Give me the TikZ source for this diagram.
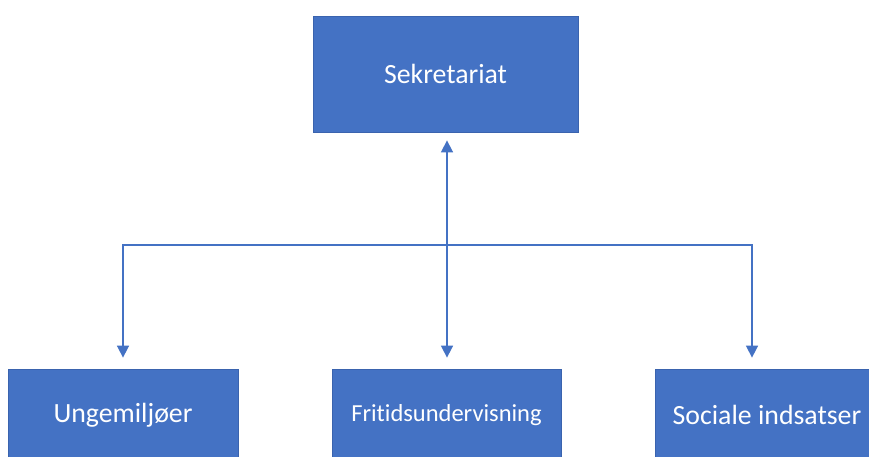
\documentclass[tikz,border=0pt]{standalone}
\usepackage{fontspec}
\setmainfont[Ligatures=NoCommon]{Carlito}
\usetikzlibrary{arrows.meta,calc}
\definecolor{boxblue}{HTML}{4472C4}
\definecolor{edgeblue}{HTML}{3A63AE}

\begin{document}
\begin{tikzpicture}[x=1pt,y=-1pt,
    unit/.style={draw=edgeblue,line width=0.8pt,fill=boxblue,text=white,
        font=\fontsize{27.8}{32}\selectfont,inner sep=0pt,minimum height=92pt},
    link/.style={draw=boxblue,line width=1.6pt,-{Triangle[length=12pt,width=12pt]}}]
    \useasboundingbox (0,0) rectangle (869,456);
    \clip (0,0) rectangle (869,456);
    \node [unit,minimum width=265pt,minimum height=116pt] (sek) at (445.5,74) {Sekretariat};
    \node [unit,minimum width=230pt] (ung) at (123,415) {Ungemiljøer};
    \node [unit,minimum width=229pt,font=\fontsize{24.5}{29}\selectfont] (fri) at (446.5,415) {Fritidsundervisning};
    \node [unit,minimum width=224pt] (soc) at (767,415) {Sociale indsatser};
    \coordinate (hub) at (447,245);
    \coordinate (socin) at ($(soc.north)+(-15,0)$);
    \draw [link,{Triangle[length=12pt,width=12pt]}-{Triangle[length=12pt,width=12pt]},shorten <=8pt,shorten >=11pt] (hub |- sek.south)--(hub |- fri.north);
    \draw [link,shorten >=11pt] (hub) -| (ung.north);
    \draw [link,shorten >=11pt] (hub) -| (socin);
\end{tikzpicture}
\end{document}
